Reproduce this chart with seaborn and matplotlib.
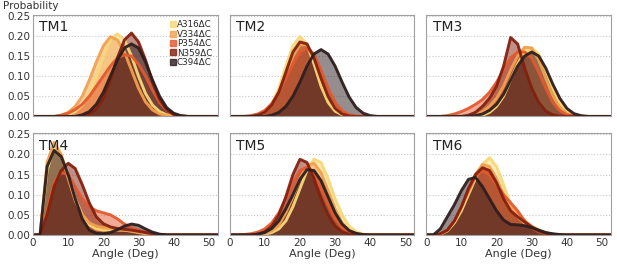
import numpy as np
import pandas as pd
import matplotlib
matplotlib.use("Agg")
import matplotlib.pyplot as plt
from matplotlib.lines import Line2D
import seaborn as sns

# bin centres (deg)
angles = list(range(0, 56, 2))
variants = ["A316ΔC", "V334ΔC", "P354ΔC", "N359ΔC", "C394ΔC"]
colors = ["#f8d877", "#f2a04e", "#e3592f", "#84200f", "#2e1e1e"]
panels = ["TM1", "TM2", "TM3", "TM4", "TM5", "TM6"]

# TM1
tm1_a316 = [0, 0, 0, 0, 0, .004, .012, .028, .057, .100, .149, .190, .205, .190, .150, .100, .057, .028, .012, .004, .001, 0, 0, 0, 0, 0, 0, 0]
tm1_v334 = [0, 0, 0, 0, .003, .010, .025, .050, .090, .135, .175, .198, .190, .160, .115, .070, .036, .016, .006, .002, 0, 0, 0, 0, 0, 0, 0, 0]
tm1_p354 = [0, 0, 0, 0, .003, .008, .017, .030, .050, .075, .100, .125, .145, .153, .150, .130, .100, .065, .035, .015, .005, .001, 0, 0, 0, 0, 0, 0]
tm1_n359 = [0, 0, 0, 0, 0, 0, 0, 0, .006, .018, .045, .090, .145, .190, .207, .185, .140, .085, .042, .017, .005, .001, 0, 0, 0, 0, 0, 0]
tm1_c394 = [0, 0, 0, 0, 0, 0, 0, .004, .012, .030, .060, .100, .140, .170, .180, .170, .135, .090, .050, .022, .008, .002, 0, 0, 0, 0, 0, 0]

# TM2
tm2_a316 = [0, 0, 0, 0, .003, .010, .030, .070, .125, .175, .198, .180, .130, .075, .035, .013, .004, .001, 0, 0, 0, 0, 0, 0, 0, 0, 0, 0]
tm2_v334 = [0, 0, 0, 0, .003, .010, .028, .060, .105, .150, .178, .178, .145, .095, .050, .021, .007, .002, 0, 0, 0, 0, 0, 0, 0, 0, 0, 0]
tm2_p354 = [0, 0, 0, .002, .006, .015, .032, .060, .095, .130, .160, .170, .155, .115, .070, .035, .014, .004, .001, 0, 0, 0, 0, 0, 0, 0, 0, 0]
tm2_n359 = [0, 0, 0, 0, .003, .010, .028, .060, .110, .160, .185, .180, .145, .095, .050, .020, .006, .001, 0, 0, 0, 0, 0, 0, 0, 0, 0, 0]
tm2_c394 = [0, 0, 0, 0, 0, 0, .003, .010, .025, .050, .085, .125, .155, .166, .155, .125, .085, .048, .022, .008, .002, 0, 0, 0, 0, 0, 0, 0]

# TM3
tm3_a316 = [0, 0, 0, 0, 0, 0, 0, 0, .003, .010, .025, .050, .090, .130, .160, .170, .155, .115, .070, .033, .012, .003, 0, 0, 0, 0, 0, 0]
tm3_v334 = [0, 0, 0, 0, 0, 0, 0, .004, .012, .025, .045, .075, .115, .150, .172, .170, .140, .095, .052, .022, .007, .002, 0, 0, 0, 0, 0, 0]
tm3_p354 = [0, 0, 0, .002, .006, .012, .020, .030, .042, .060, .085, .115, .145, .160, .160, .145, .110, .070, .035, .014, .004, .001, 0, 0, 0, 0, 0, 0]
tm3_n359 = [0, 0, 0, 0, 0, 0, .003, .010, .025, .045, .075, .125, .196, .180, .120, .070, .035, .013, .004, .001, 0, 0, 0, 0, 0, 0, 0, 0]
tm3_c394 = [0, 0, 0, 0, 0, 0, 0, .002, .006, .015, .030, .055, .090, .125, .150, .160, .150, .120, .080, .045, .020, .007, .002, 0, 0, 0, 0, 0]

# TM4
tm4_a316 = [0, 0, .160, .220, .200, .150, .090, .050, .025, .015, .012, .012, .012, .012, .010, .007, .004, .002, .001, 0, 0, 0, 0, 0, 0, 0, 0, 0]
tm4_v334 = [0, 0, .180, .230, .200, .140, .085, .050, .030, .022, .018, .016, .014, .012, .009, .006, .003, .001, 0, 0, 0, 0, 0, 0, 0, 0, 0, 0]
tm4_p354 = [0, 0, .060, .130, .155, .150, .120, .090, .070, .060, .055, .050, .040, .027, .018, .012, .007, .003, .001, 0, 0, 0, 0, 0, 0, 0, 0, 0]
tm4_n359 = [0, 0, .050, .120, .160, .178, .165, .125, .080, .045, .028, .020, .016, .014, .012, .009, .006, .003, .001, 0, 0, 0, 0, 0, 0, 0, 0, 0]
tm4_c394 = [0, 0, .170, .210, .195, .150, .090, .040, .012, .004, .003, .006, .013, .022, .027, .024, .015, .007, .002, 0, 0, 0, 0, 0, 0, 0, 0, 0]

# TM5
tm5_a316 = [0, 0, 0, 0, 0, .002, .006, .015, .035, .070, .115, .160, .188, .180, .140, .090, .050, .022, .008, .002, 0, 0, 0, 0, 0, 0, 0, 0]
tm5_v334 = [0, 0, 0, 0, 0, .003, .010, .025, .055, .095, .140, .172, .178, .155, .110, .065, .030, .011, .003, 0, 0, 0, 0, 0, 0, 0, 0, 0]
tm5_p354 = [0, 0, .001, .003, .007, .015, .030, .055, .090, .130, .160, .168, .150, .115, .075, .040, .018, .007, .002, 0, 0, 0, 0, 0, 0, 0, 0, 0]
tm5_n359 = [0, 0, 0, 0, .002, .008, .022, .050, .095, .150, .188, .180, .140, .090, .050, .022, .008, .002, 0, 0, 0, 0, 0, 0, 0, 0, 0, 0]
tm5_c394 = [0, 0, 0, 0, .002, .006, .016, .035, .065, .100, .138, .162, .160, .135, .095, .055, .027, .011, .004, .001, 0, 0, 0, 0, 0, 0, 0, 0]

# TM6
tm6_a316 = [0, 0, .002, .010, .030, .060, .100, .140, .175, .192, .170, .125, .075, .045, .030, .020, .012, .006, .002, 0, 0, 0, 0, 0, 0, 0, 0, 0]
tm6_v334 = [0, 0, .003, .012, .035, .070, .110, .150, .175, .170, .140, .100, .070, .050, .035, .022, .012, .005, .001, 0, 0, 0, 0, 0, 0, 0, 0, 0]
tm6_p354 = [0, 0, .003, .012, .035, .070, .110, .145, .160, .150, .125, .100, .080, .060, .035, .018, .008, .003, .001, 0, 0, 0, 0, 0, 0, 0, 0, 0]
tm6_n359 = [0, 0, .003, .012, .035, .070, .115, .150, .167, .160, .130, .090, .060, .045, .032, .020, .010, .004, .001, 0, 0, 0, 0, 0, 0, 0, 0, 0]
tm6_c394 = [0, 0, .015, .045, .075, .110, .138, .143, .120, .090, .060, .037, .026, .025, .023, .018, .012, .006, .003, .001, 0, 0, 0, 0, 0, 0, 0, 0]

panel_series = [
    [tm1_a316, tm1_v334, tm1_p354, tm1_n359, tm1_c394],
    [tm2_a316, tm2_v334, tm2_p354, tm2_n359, tm2_c394],
    [tm3_a316, tm3_v334, tm3_p354, tm3_n359, tm3_c394],
    [tm4_a316, tm4_v334, tm4_p354, tm4_n359, tm4_c394],
    [tm5_a316, tm5_v334, tm5_p354, tm5_n359, tm5_c394],
    [tm6_a316, tm6_v334, tm6_p354, tm6_n359, tm6_c394],
]

rows = []
for panel, series in zip(panels, panel_series):
    for v, vals in zip(variants, series):
        for a, p in zip(angles, vals):
            rows.append({"panel": panel, "variant": v, "angle": a, "prob": p})
df = pd.DataFrame(rows)

sns.set_theme(style="white")
plt.rcParams['font.family'] = ['DejaVu Sans']

fig, axes = plt.subplots(2, 3, figsize=(6.17, 2.67), dpi=100, sharex=True, sharey=True)
fig.subplots_adjust(left=0.0535, right=0.990, top=0.944, bottom=0.120,
                    wspace=0.065, hspace=0.168)

for i, (ax, panel) in enumerate(zip(axes.flat, panels)):
    sub = df[df.panel == panel]
    # each variant: translucent fill, then its outline, so later ones sit on top
    for v, c in zip(variants, colors):
        d = sub[sub.variant == v]
        ax.fill_between(d.angle, d.prob, color=c, alpha=0.5, lw=0)
        sns.lineplot(x=d.angle.values, y=d.prob.values, color=c, lw=2.1,
                     alpha=0.95, ax=ax)
    ax.set_xlim(0, 52.5)
    ax.set_ylim(0, 0.252)
    ax.set_yticks([0, 0.05, 0.10, 0.15, 0.20, 0.25])
    ax.set_yticklabels(["0.00", "0.05", "0.10", "0.15", "0.20", "0.25"])
    ax.set_xticks([0, 10, 20, 30, 40, 50])
    ax.yaxis.grid(True, ls=":", color="#c8c8c8", lw=0.8)
    ax.xaxis.grid(False)
    ax.set_axisbelow(True)
    for s in ax.spines.values():
        s.set_color("#a0a0a0")
        s.set_linewidth(0.8)
    ax.tick_params(length=0, pad=2, labelsize=7.5, colors="#333333")
    ax.text(0.035, 0.95, panel, transform=ax.transAxes, va="top", ha="left",
            fontsize=10, color="#222222")
    ax.set_ylabel("")
    if i >= 3:
        ax.set_xlabel("Angle (Deg)", fontsize=8, labelpad=1, color="#333333")
    else:
        ax.set_xlabel("")

handles = [Line2D([0], [0], marker="s", ls="", markersize=4,
                  markerfacecolor=c, markeredgecolor=c, alpha=0.8)
           for c in colors]
axes[0, 0].legend(handles, variants, loc="upper right", frameon=False,
                  fontsize=6.3, handletextpad=0.1, labelspacing=0.05,
                  borderaxespad=0.2, handlelength=0.8)

fig.text(3 / 617, 1 - 6 / 267, "Probability", fontsize=7.5, va="center",
         ha="left", color="#333333")

fig.savefig("out.png", dpi=100)
